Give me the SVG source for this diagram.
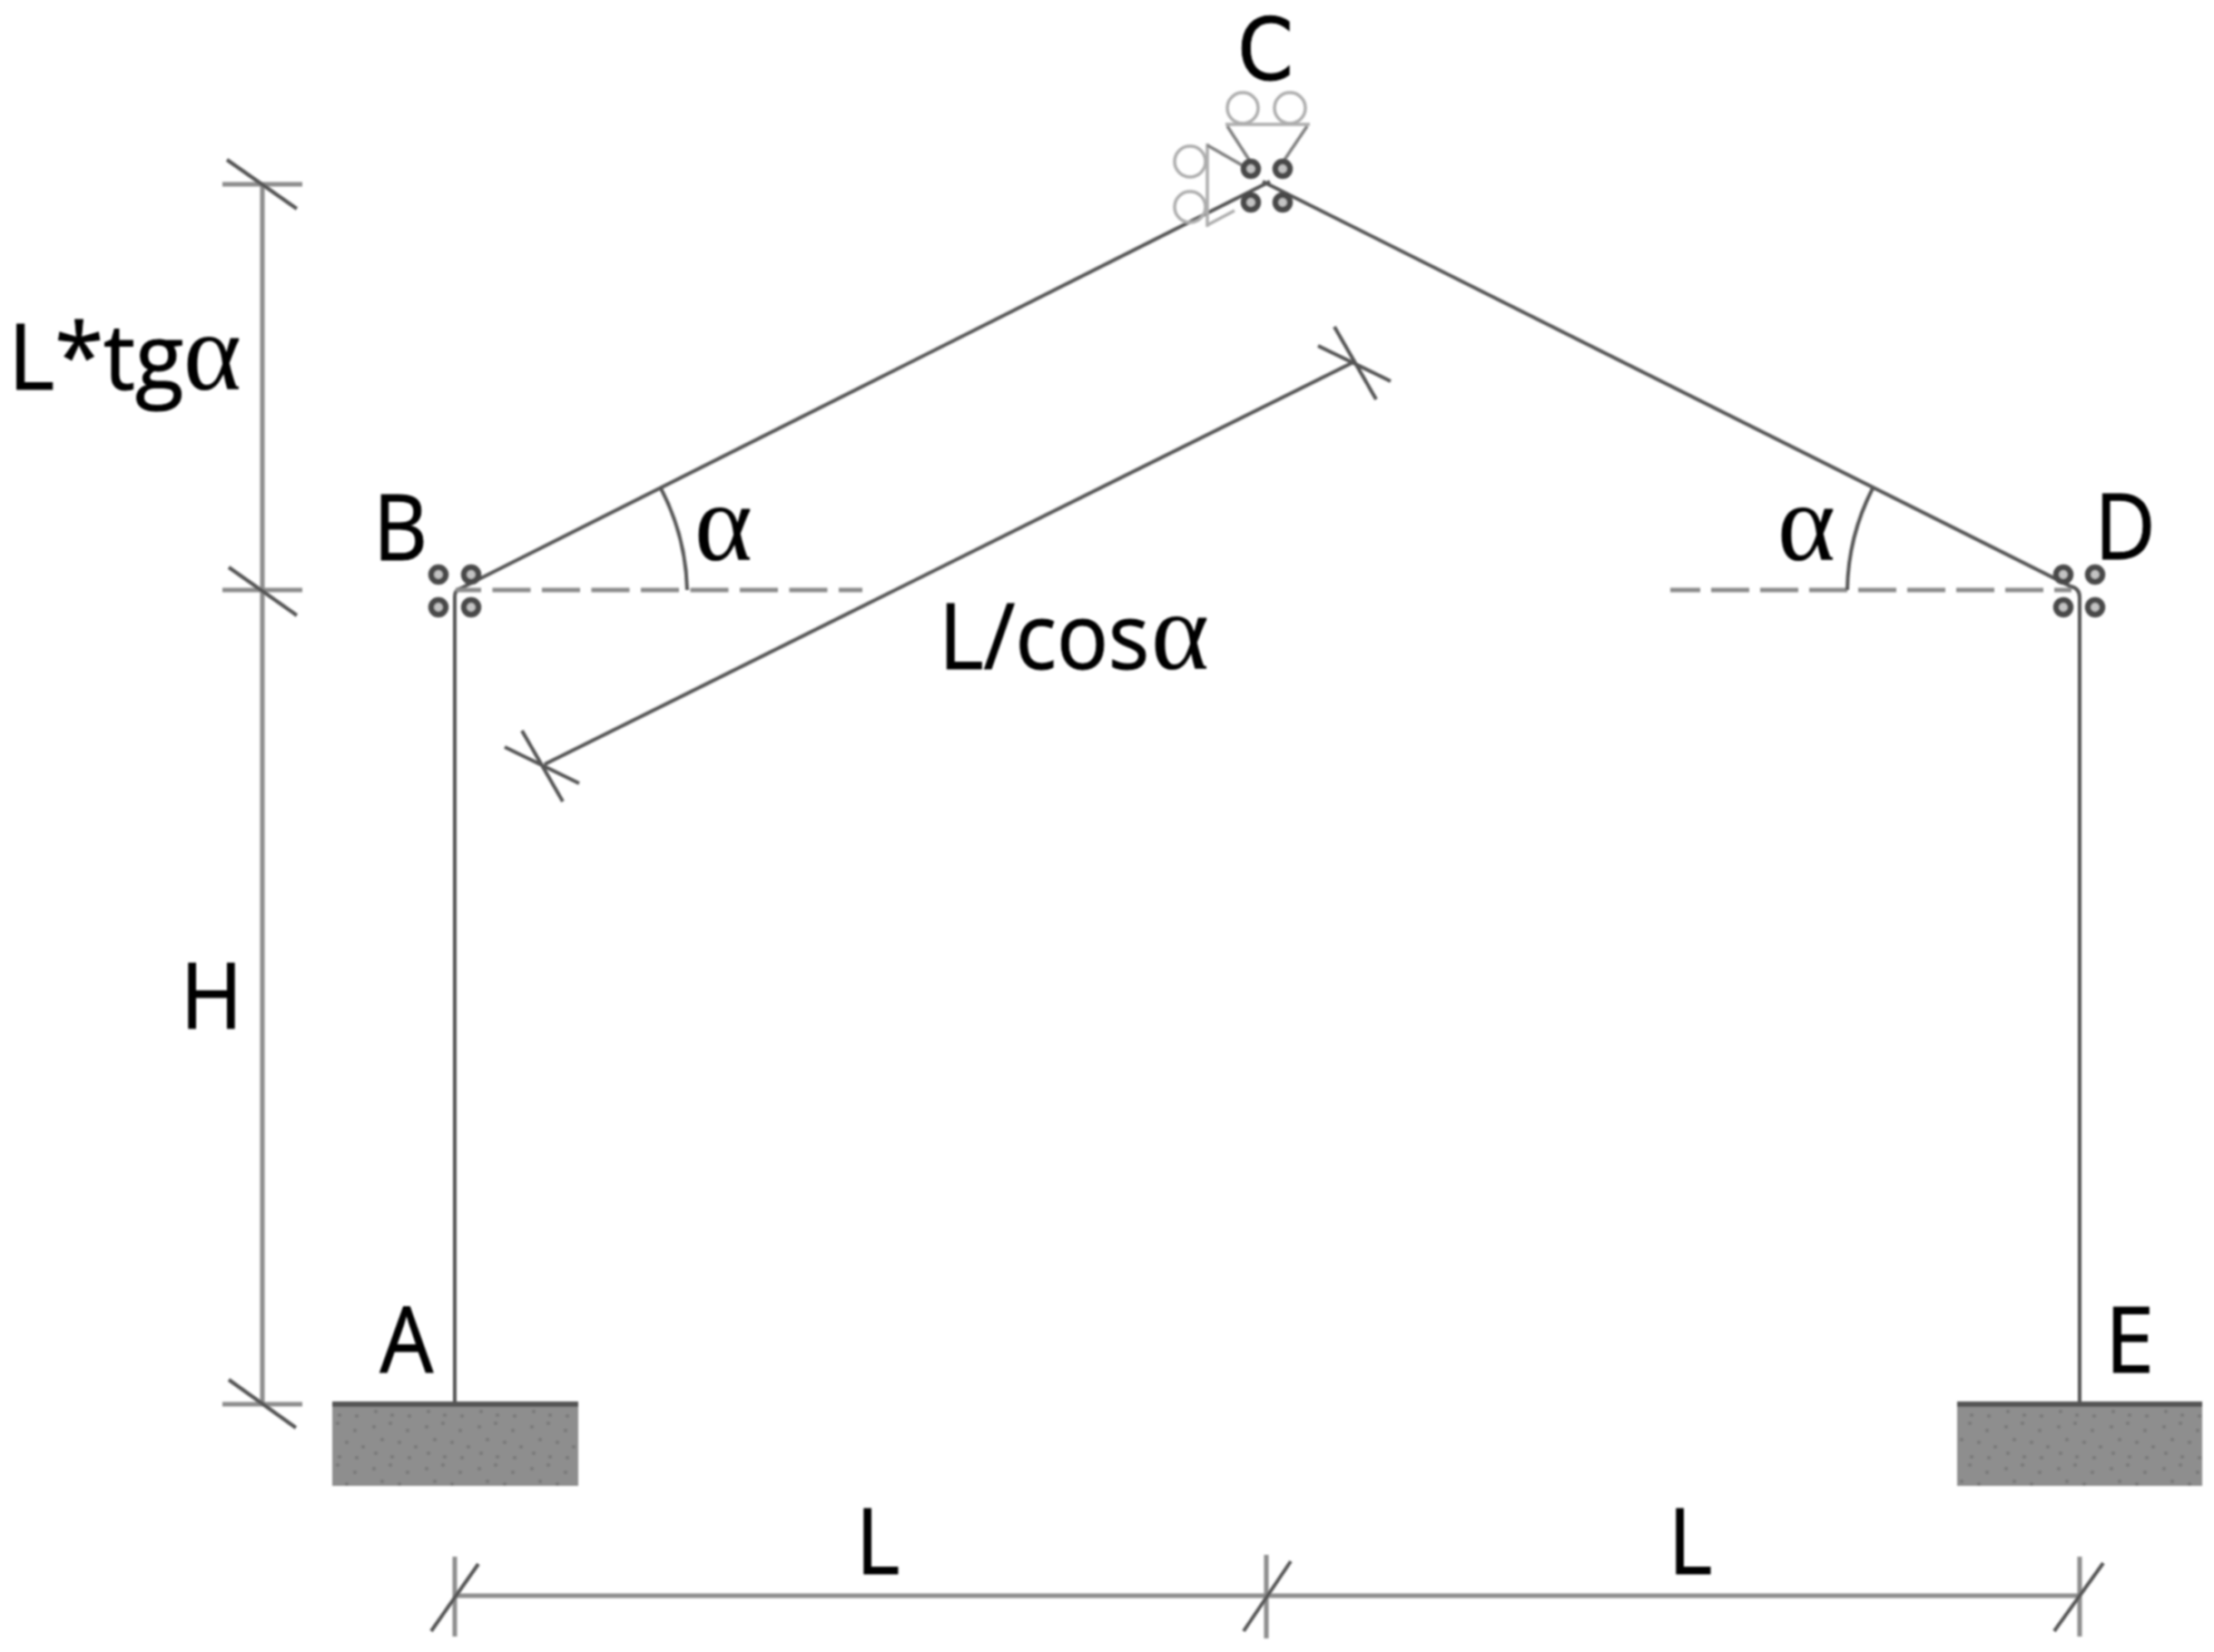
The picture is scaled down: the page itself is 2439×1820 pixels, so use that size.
<svg xmlns="http://www.w3.org/2000/svg" width="2439" height="1820" viewBox="0 0 2439 1820">
<defs>
<filter id="b" x="0" y="0" width="2439" height="1820" filterUnits="userSpaceOnUse"><feGaussianBlur stdDeviation="0.8"/></filter>
<pattern id="st" width="58" height="46" patternUnits="userSpaceOnUse">
<rect width="58" height="46" fill="#8e8e8e"/>
<g fill="#767676"><circle cx="6" cy="8" r="2"/><circle cx="24" cy="4" r="2"/><circle cx="43" cy="12" r="2"/><circle cx="15" cy="22" r="2"/><circle cx="34" cy="25" r="2"/><circle cx="52" cy="30" r="2"/><circle cx="8" cy="37" r="2"/><circle cx="26" cy="41" r="2"/><circle cx="45" cy="42" r="2"/></g>
</pattern>
</defs>
<style>
.t{font-family:"Open Sans","Noto Sans",sans-serif;font-size:100px;fill:#000;stroke:#000;stroke-width:1}
.g{font-family:"Liberation Serif",serif;font-size:122px;fill:#000}
.m{stroke:#555;stroke-width:4;fill:none}
.d{stroke:#8c8c8c;stroke-width:5;fill:none}
.s{stroke:#555;stroke-width:4;fill:none}
.h{stroke:#adadad;stroke-width:3.5;fill:none}
.h2{stroke:#808080;stroke-width:3.5;fill:none}
.c{stroke:#4a4a4a;stroke-width:6.5;fill:#c4c4c4}
.f{fill:url(#st)}
.b{stroke:#555;stroke-width:6;fill:none}
</style>
<rect width="2439" height="1820" fill="#fff"/>
<g filter="url(#b)">
<g id="connectors">
<path class="m" d="M501 1547V657Q501 650 508 648L1399 200M1391 200L2281 646Q2291 648 2291 658V1547"/>
<path class="d" stroke-dasharray="42 12.5" stroke-dashoffset="14" d="M502 650H950"/>
<path class="d" stroke-dasharray="42 12" stroke-dashoffset="9" d="M1840 650H2282"/>
<path class="m" d="M757 650A255 255 0 0 0 728 538M2035 650A255 255 0 0 1 2063 538"/>
<path class="d" d="M289 203V1547M245 203H333M245 650H333M245 1547H333"/>
<path class="s" d="M250 176L327 230M252 625L327 678M252 1520L326 1573"/>
<path class="m" d="M600 842L1491 399M575 805L620 883M1470 360L1516 440M556 823L638 863M1452 381L1532 420"/>
<path class="d" d="M501 1758H2291M501 1715V1803M1395 1713V1805M2291 1715V1803"/>
<path class="s" d="M475 1797L527 1723M1370 1797L1422 1720M2263 1797L2317 1722"/>
</g>
<g id="node-A"><rect class="f" x="366" y="1547" width="271" height="90"/><path class="b" d="M366 1547H637"/><text class="t" transform="translate(448 1512) scale(.93 1)" text-anchor="middle">A</text></g>
<g id="node-B"><circle class="c" cx="483" cy="633" r="8"/><circle class="c" cx="519" cy="633" r="8"/><circle class="c" cx="483" cy="669" r="8"/><circle class="c" cx="519" cy="669" r="8"/><text class="t" transform="translate(441 617) scale(.93 1)" text-anchor="middle">B</text></g>
<g id="node-C"><circle class="h" cx="1369" cy="119" r="17"/><circle class="h" cx="1421" cy="119" r="17"/><path class="h" d="M1350 137H1443"/><path class="h2" d="M1352 139L1376 176M1440 139L1415 176"/><circle class="h" cx="1311" cy="178" r="17"/><circle class="h" cx="1311" cy="228" r="17"/><path class="h" d="M1330 158V250M1330 248L1360 232"/><path class="h2" d="M1330 160L1370 183"/><circle class="c" cx="1378" cy="186" r="8"/><circle class="c" cx="1413" cy="186" r="8"/><circle class="c" cx="1378" cy="223" r="8"/><circle class="c" cx="1413" cy="223" r="8"/><text transform="translate(1394 88) scale(.94 1)" text-anchor="middle" font-family="'DejaVu Sans',sans-serif" font-size="94" stroke="#000" stroke-width="1">C</text></g>
<g id="node-D"><circle class="c" cx="2273" cy="633" r="8"/><circle class="c" cx="2308" cy="633" r="8"/><circle class="c" cx="2273" cy="669" r="8"/><circle class="c" cx="2308" cy="669" r="8"/><text class="t" transform="translate(2341 616) scale(.93 1)" text-anchor="middle">D</text></g>
<g id="node-E"><rect class="f" x="2156" y="1547" width="270" height="90"/><path class="b" d="M2156 1547H2426"/><text class="t" transform="translate(2346 1512) scale(.98 1)" text-anchor="middle">E</text></g>
<g id="labels">
<text class="t" transform="translate(9 429) scale(.98 1)">L*tg</text><text class="g" x="202" y="429">α</text>
<text class="t" transform="translate(233 1133) scale(.93 1)" text-anchor="middle">H</text>
<text class="t" transform="translate(1034 737) scale(.95 1)">L/cos</text><text class="g" x="1268" y="737">α</text>
<text class="t" transform="translate(967 1734) scale(.93 1)" text-anchor="middle">L</text>
<text class="t" transform="translate(1862 1734) scale(.93 1)" text-anchor="middle">L</text>
<text class="g" x="765" y="617">α</text>
<text class="g" x="1958" y="617">α</text>
</g>
</g>
</svg>
